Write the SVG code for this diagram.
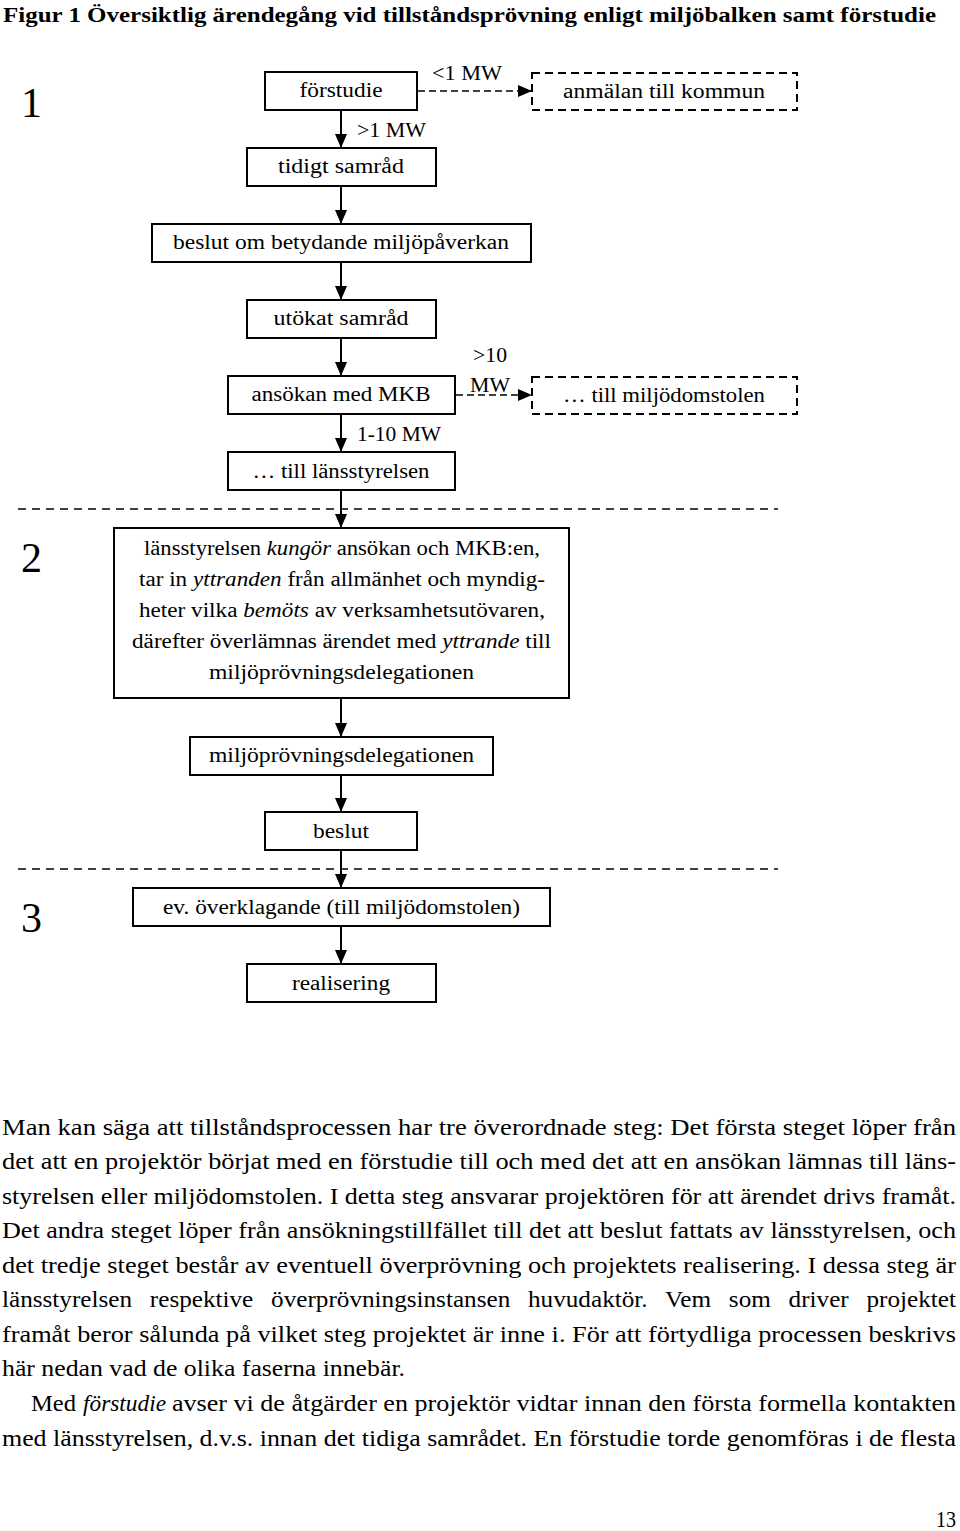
<svg xmlns="http://www.w3.org/2000/svg" width="960" height="1531" viewBox="0 0 960 1531">
<style>
.box{fill:#fff;stroke:#000;stroke-width:2}
.dbox{fill:none;stroke:#000;stroke-width:2;stroke-dasharray:8 5}
.lbl{font-family:"Liberation Serif",serif;font-size:20px;fill:#000;text-anchor:middle}
.edge{stroke:#000;stroke-width:2;fill:none;marker-end:url(#ah)}
.dedge{stroke:#000;stroke-width:1.5;fill:none;stroke-dasharray:7 4;marker-end:url(#ah)}
.sep{stroke:#000;stroke-width:1.5;stroke-dasharray:8 6}
.num{font-family:"Liberation Serif",serif;font-size:42px;fill:#000}
.body{font-family:"Liberation Serif",serif;font-size:23px;fill:#000}
.it{font-style:italic}
</style>
<defs>
<marker id="ah" viewBox="0 0 14 12" refX="14" refY="6" markerWidth="14" markerHeight="12" markerUnits="userSpaceOnUse" orient="auto">
<path d="M0,0 L14,6 L0,12 z" fill="#000"/>
</marker>
</defs>
<rect width="960" height="1531" fill="#fff"/>
<text x="3" y="22" font-family="Liberation Serif,serif" font-weight="bold" font-size="22" textLength="933" lengthAdjust="spacingAndGlyphs">Figur 1 Översiktlig ärendegång vid tillståndsprövning enligt miljöbalken samt förstudie</text>

<text class="num" x="21" y="117">1</text>
<text class="num" x="21" y="572">2</text>
<text class="num" x="21" y="932">3</text>

<line class="sep" x1="18" y1="509" x2="778" y2="509"/>
<line class="sep" x1="18" y1="869" x2="778" y2="869"/>

<g id="connectors">
<line class="edge" x1="341" y1="110" x2="341" y2="148"/>
<line class="edge" x1="341" y1="186" x2="341" y2="224"/>
<line class="edge" x1="341" y1="262" x2="341" y2="300"/>
<line class="edge" x1="341" y1="338" x2="341" y2="376"/>
<line class="edge" x1="341" y1="414" x2="341" y2="452"/>
<line class="edge" x1="341" y1="490" x2="341" y2="528"/>
<line class="edge" x1="341" y1="698" x2="341" y2="737"/>
<line class="edge" x1="341" y1="775" x2="341" y2="812"/>
<line class="edge" x1="341" y1="850" x2="341" y2="888"/>
<line class="edge" x1="341" y1="926" x2="341" y2="964"/>
<line class="dedge" x1="418" y1="91" x2="532" y2="91"/>
<line class="dedge" x1="456" y1="395" x2="532" y2="395"/>
<text class="lbl" x="467" y="80" textLength="70" lengthAdjust="spacingAndGlyphs">&lt;1 MW</text>
<text class="lbl" x="391.5" y="137" textLength="69" lengthAdjust="spacingAndGlyphs">&gt;1 MW</text>
<text class="lbl" x="490" y="362" textLength="34" lengthAdjust="spacingAndGlyphs">&gt;10</text>
<text class="lbl" x="490" y="392" textLength="40" lengthAdjust="spacingAndGlyphs">MW</text>
<text class="lbl" x="399" y="441" textLength="84" lengthAdjust="spacingAndGlyphs">1-10 MW</text>
</g>

<g id="n-forstudie"><rect class="box" x="265" y="72" width="152" height="38"/><text class="lbl" x="341" y="97" textLength="83" lengthAdjust="spacingAndGlyphs">förstudie</text></g>
<g id="n-anmalan"><rect class="dbox" x="532" y="73" width="265" height="37"/><text class="lbl" x="664" y="98" textLength="202" lengthAdjust="spacingAndGlyphs">anmälan till kommun</text></g>
<g id="n-tidigt"><rect class="box" x="247" y="148" width="189" height="38"/><text class="lbl" x="341" y="173" textLength="126" lengthAdjust="spacingAndGlyphs">tidigt samråd</text></g>
<g id="n-beslutom"><rect class="box" x="152" y="224" width="379" height="38"/><text class="lbl" x="341" y="249" textLength="336" lengthAdjust="spacingAndGlyphs">beslut om betydande miljöpåverkan</text></g>
<g id="n-utokat"><rect class="box" x="247" y="300" width="189" height="38"/><text class="lbl" x="341" y="325" textLength="135" lengthAdjust="spacingAndGlyphs">utökat samråd</text></g>
<g id="n-ansokan"><rect class="box" x="228" y="376" width="227" height="38"/><text class="lbl" x="341" y="401" textLength="179" lengthAdjust="spacingAndGlyphs">ansökan med MKB</text></g>
<g id="n-miljodomstolen"><rect class="dbox" x="532" y="377" width="265" height="37"/><text class="lbl" x="664" y="402" textLength="202" lengthAdjust="spacingAndGlyphs">… till miljödomstolen</text></g>
<g id="n-lansstyrelsen"><rect class="box" x="228" y="452" width="227" height="38"/><text class="lbl" x="341" y="478" textLength="177" lengthAdjust="spacingAndGlyphs">… till länsstyrelsen</text></g>
<g id="n-kungor"><rect class="box" x="114" y="528" width="455" height="170"/>
<text class="lbl" x="342" y="555" textLength="396" lengthAdjust="spacingAndGlyphs">länsstyrelsen <tspan class="it">kungör</tspan> ansökan och MKB:en,</text>
<text class="lbl" x="342" y="586" textLength="406" lengthAdjust="spacingAndGlyphs">tar in <tspan class="it">yttranden</tspan> från allmänhet och myndig-</text>
<text class="lbl" x="342" y="617" textLength="406" lengthAdjust="spacingAndGlyphs">heter vilka <tspan class="it">bemöts</tspan> av verksamhetsutövaren,</text>
<text class="lbl" x="341.5" y="648" textLength="419" lengthAdjust="spacingAndGlyphs">därefter överlämnas ärendet med <tspan class="it">yttrande</tspan> till</text>
<text class="lbl" x="341.5" y="679" textLength="265" lengthAdjust="spacingAndGlyphs">miljöprövningsdelegationen</text>
</g>
<g id="n-mpd"><rect class="box" x="190" y="737" width="303" height="38"/><text class="lbl" x="341.5" y="762" textLength="265" lengthAdjust="spacingAndGlyphs">miljöprövningsdelegationen</text></g>
<g id="n-beslut"><rect class="box" x="265" y="812" width="152" height="38"/><text class="lbl" x="341" y="838" textLength="56" lengthAdjust="spacingAndGlyphs">beslut</text></g>
<g id="n-overklagande"><rect class="box" x="133" y="888" width="417" height="38"/><text class="lbl" x="341.5" y="914" textLength="357" lengthAdjust="spacingAndGlyphs">ev. överklagande (till miljödomstolen)</text></g>
<g id="n-realisering"><rect class="box" x="247" y="964" width="189" height="38"/><text class="lbl" x="341" y="990" textLength="98" lengthAdjust="spacingAndGlyphs">realisering</text></g>

<g id="bodytext">
<text class="body" x="2" y="1135" textLength="954" lengthAdjust="spacingAndGlyphs">Man kan säga att tillståndsprocessen har tre överordnade steg: Det första steget löper från</text>
<text class="body" x="2" y="1169" textLength="954" lengthAdjust="spacingAndGlyphs">det att en projektör börjat med en förstudie till och med det att en ansökan lämnas till läns-</text>
<text class="body" x="2" y="1204" textLength="954" lengthAdjust="spacingAndGlyphs">styrelsen eller miljödomstolen. I detta steg ansvarar projektören för att ärendet drivs framåt.</text>
<text class="body" x="2" y="1238" textLength="954" lengthAdjust="spacingAndGlyphs">Det andra steget löper från ansökningstillfället till det att beslut fattats av länsstyrelsen, och</text>
<text class="body" x="2" y="1273" textLength="954" lengthAdjust="spacingAndGlyphs">det tredje steget består av eventuell överprövning och projektets realisering. I dessa steg är</text>
<text class="body" x="2" y="1307" word-spacing="10.5" textLength="954" lengthAdjust="spacingAndGlyphs">länsstyrelsen respektive överprövningsinstansen huvudaktör. Vem som driver projektet</text>
<text class="body" x="2" y="1342" textLength="954" lengthAdjust="spacingAndGlyphs">framåt beror sålunda på vilket steg projektet är inne i. För att förtydliga processen beskrivs</text>
<text class="body" x="2" y="1376" textLength="403" lengthAdjust="spacingAndGlyphs">här nedan vad de olika faserna innebär.</text>
<text class="body" x="31" y="1411" textLength="45" lengthAdjust="spacingAndGlyphs">Med</text>
<text class="body it" x="83" y="1411" textLength="83" lengthAdjust="spacingAndGlyphs">förstudie</text>
<text class="body" x="172" y="1411" textLength="784" lengthAdjust="spacingAndGlyphs">avser vi de åtgärder en projektör vidtar innan den första formella kontakten</text>
<text class="body" x="2" y="1446" textLength="954" lengthAdjust="spacingAndGlyphs">med länsstyrelsen, d.v.s. innan det tidiga samrådet. En förstudie torde genomföras i de flesta</text>
<text class="body" x="936" y="1527" font-size="19" textLength="20" lengthAdjust="spacingAndGlyphs">13</text>
</g>
</svg>
